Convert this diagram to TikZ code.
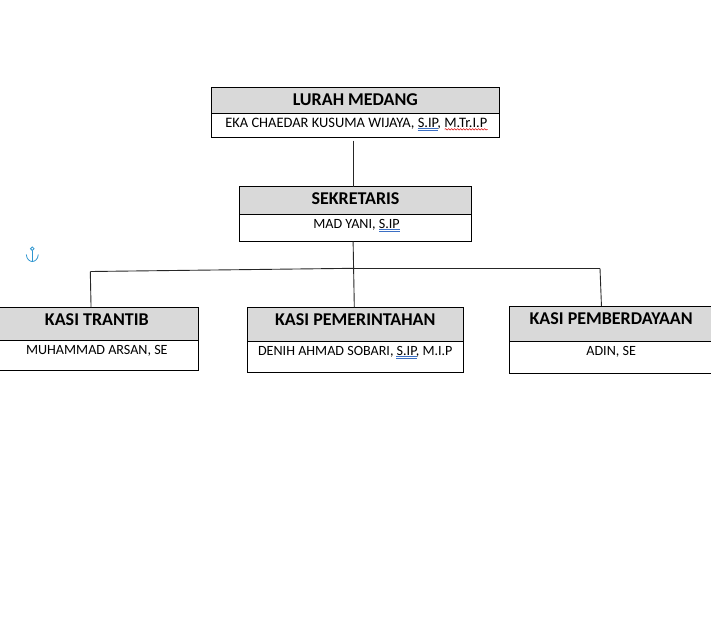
\documentclass[tikz,border=0pt]{standalone}
\usepackage{fontspec}
\setmainfont{Carlito}
\usetikzlibrary{decorations.pathmorphing}
\definecolor{headgray}{HTML}{D9D9D9}
\definecolor{anchorblue}{HTML}{2F96D0}
\definecolor{markblue}{HTML}{3B6FC4}
\definecolor{markred}{HTML}{E02020}
\tikzset{head/.style = {shape = rectangle, draw, fill = headgray, anchor = north west, inner sep = 0, outer sep = 0, line width = 0.9pt, font = \fontsize{18}{20}\selectfont\bfseries}}
\tikzset{body/.style = {shape = rectangle, draw, anchor = north west, inner sep = 0, outer sep = 0, line width = 0.9pt, font = \fontsize{14.1}{16}\selectfont}}
\tikzset{edge/.style = {-, line width = 0.9pt, black!85}}
\tikzset{dblmark/.style = {markblue, line width = 0.6pt}}
\tikzset{wavymark/.style = {markred, line width = 0.6pt, decorate, decoration = {snake, amplitude = 0.7pt, segment length = 3pt}}}
\begin{document}
\begin{tikzpicture}[x = 1pt, y = -1pt]
	\useasboundingbox (0, 0) rectangle (711, 625);

	\node[head, minimum width = 288pt, text height = 17.7pt, text depth = 8.3pt] (lurah) at (211.3, 87.3) {LURAH MEDANG};
	\node[body, font = \fontsize{14.45}{16}\selectfont, minimum width = 288pt, text height = 13.7pt, text depth = 10.3pt] (lurahname) at (211.3, 113.3) {\hspace{2pt}EKA CHAEDAR KUSUMA WIJAYA, S.IP, M.Tr.I.P};
	\node[head, minimum width = 232.4pt, text height = 17.3pt, text depth = 10.3pt] (sekretaris) at (239.3, 186.7) {SEKRETARIS};
	\node[body, minimum width = 232.4pt, text height = 14pt, text depth = 13pt] (sekretarisname) at (239.3, 214.3) {\hspace{2pt}MAD YANI, S.IP};
	\node[head, minimum width = 203.7pt, text height = 17.7pt, text depth = 15.3pt] (trantib) at (-5, 307.3) {KASI TRANTIB};
	\node[body, minimum width = 203.7pt, text height = 13.7pt, text depth = 16.3pt] (trantibname) at (-5, 340.3) {MUHAMMAD ARSAN, SE};
	\node[head, minimum width = 216pt, text height = 17.7pt, text depth = 16.3pt] (pemerintahan) at (247.3, 307.3) {KASI PEMERINTAHAN};
	\node[body, minimum width = 216pt, text height = 13.7pt, text depth = 17.3pt] (pemerintahanname) at (247.3, 341.3) {DENIH AHMAD SOBARI, S.IP, M.I.P};
	\node[head, minimum width = 203.7pt, text height = 18pt, text depth = 17.3pt] (pemberdayaan) at (509.3, 306) {KASI PEMBERDAYAAN};
	\node[body, minimum width = 203.7pt, text height = 13.7pt, text depth = 18pt] (pemberdayaanname) at (509.3, 341.3) {ADIN, SE};

	\coordinate (stemtop) at (353.3, 140.5);
	\coordinate (junction) at (353.3, 268.3);
	\coordinate (elbowleft) at (90.3, 271.5);
	\coordinate (elbowright) at (600, 268.3);

	\draw[edge] (stemtop) to ([xshift = -2.2pt]sekretaris.north);
	\draw[edge] ([xshift = -2.4pt]sekretarisname.south) to ([xshift = -1pt]pemerintahan.north);
	\draw[edge] (junction) to (elbowleft);
	\draw[edge] (junction) to (elbowright);
	\draw[edge] (elbowleft) to ([xshift = -5.8pt]trantib.north);
	\draw[edge] (elbowright) to ([xshift = -9.7pt]pemberdayaan.north);

	% spelling marks
	\draw[dblmark] (417.5, 128.4) -- (438, 128.4) (417.5, 130) -- (438, 130);
	\draw[dblmark] (379, 229.2) -- (399.7, 229.2) (379, 230.8) -- (399.7, 230.8);
	\draw[dblmark] (396, 356.4) -- (417.3, 356.4) (396, 358) -- (417.3, 358);
	\draw[wavymark] (444.7, 129.3) -- (487.8, 129.3);

	% anchor mark
	\draw[anchorblue, line width = 0.8pt] (32.3, 248.7) circle (1.8);
	\draw[anchorblue, line width = 0.8pt] (32.3, 250.5) -- (32.3, 261.5);
	\draw[anchorblue, line width = 0.8pt] (26.3, 254.5) .. controls (26.6, 259.5) and (30, 261.5) .. (32.3, 261.5) .. controls (34.6, 261.5) and (38, 259.5) .. (38.3, 254.5);
\end{tikzpicture}
\end{document}
